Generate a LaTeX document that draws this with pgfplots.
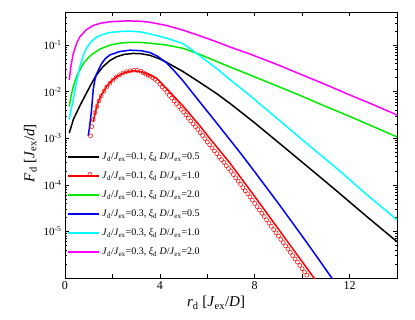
\documentclass[border=0pt]{standalone}
\usepackage{fontspec}
\setmainfont{Liberation Serif}
\usepackage{pgfplots}
\pgfplotsset{compat=1.18}
\newcommand{\Jd}{\textit{J}\textsubscript{d}}
\newcommand{\Jex}{\textit{J}\textsubscript{ex}}
\newcommand{\xid}{\textit{ξ}\textsubscript{d}}
\newcommand{\lab}[2]{\Jd/\Jex=#1, \xid{} \textit{D}/\Jex=#2}
\definecolor{cgreen}{RGB}{0,235,0}
\definecolor{cred}{RGB}{255,0,0}
\definecolor{cblue}{RGB}{0,0,255}
\definecolor{ccyan}{RGB}{0,255,255}
\definecolor{cmag}{RGB}{255,0,255}
\definecolor{cblack}{RGB}{0,0,0}
\begin{document}
\begin{tikzpicture}
\begin{axis}[
 name=ax, scale only axis, width=332pt, height=265.5pt,
 xmin=0, xmax=14, ymin=-6, ymax=-0.30103,
 xtick={0,2,4,6,8,10,12,14}, xticklabels={0,,4,,8,,12,},
 ytick={-6,-5,-4,-3,-2,-1},
 yticklabels={,10\textsuperscript{-5},10\textsuperscript{-4},10\textsuperscript{-3},10\textsuperscript{-2},10\textsuperscript{-1}},
 minor ytick={-5.699,-5.523,-5.398,-5.301,-5.222,-5.155,-5.097,-5.046,
 -4.699,-4.523,-4.398,-4.301,-4.222,-4.155,-4.097,-4.046,
 -3.699,-3.523,-3.398,-3.301,-3.222,-3.155,-3.097,-3.046,
 -2.699,-2.523,-2.398,-2.301,-2.222,-2.155,-2.097,-2.046,
 -1.699,-1.523,-1.398,-1.301,-1.222,-1.155,-1.097,-1.046,
 -0.699,-0.523,-0.398},
 tick align=inside, major tick length=4pt, minor tick length=2pt,
 tick style={black, line width=0.6pt},
 axis line style={line width=0.8pt},
 xticklabel style={font=\fontsize{12}{14}\selectfont},
 yticklabel style={font=\fontsize{11}{13}\selectfont},
 xlabel={\textit{r}\textsubscript{d} [\Jex/\textit{D}]},
 ylabel={\textit{F}\textsubscript{d} [\Jex/\textit{d}]},
 label style={font=\fontsize{15}{17}\selectfont},
 xlabel style={at={(ticklabel cs:0.455)}, anchor=near ticklabel},
 ylabel style={at={(ticklabel cs:0.47)}, anchor=near ticklabel},
 legend cell align=left,
 legend style={at={(rel axis cs:0.006,0.475)}, anchor=north west, draw=none, fill=none,
   inner sep=0pt, row sep=9.5pt, font=\fontsize{10}{12}\selectfont,
   nodes={inner sep=0.5pt},
   /tikz/every odd column/.append style={column sep=2pt}},
 legend image code/.code={\draw[#1,line width=1.5pt] (0pt,0pt) -- (31pt,0pt);},
]
\addplot[cblack, line width=1.5pt] table {
0.18 -2.89
0.35 -2.60
0.63 -2.30
1.05 -1.89
1.30 -1.66
1.61 -1.46
1.90 -1.33
2.18 -1.25
2.50 -1.20
2.88 -1.18
3.20 -1.185
3.58 -1.22
4.00 -1.30
4.28 -1.37
4.98 -1.57
5.68 -1.80
6.39 -2.04
7.00 -2.27
8.00 -2.67
9.33 -3.23
10.3 -3.64
11.5 -4.15
12.7 -4.67
14.0 -5.22
};
\addlegendentry{\lab{0.1}{0.5}}
\addplot[cred, only marks, mark=o, mark size=2pt, mark options={line width=0.5pt}, forget plot] table {
1.08 -2.95
1.13 -2.75
1.19 -2.60
1.26 -2.45
1.34 -2.32
1.43 -2.20
1.53 -2.09
1.64 -1.99
1.76 -1.90
1.89 -1.82
2.02 -1.75
2.16 -1.69
2.30 -1.64
2.45 -1.60
2.60 -1.57
2.75 -1.55
2.90 -1.54
3.05 -1.545
3.20 -1.56
3.30 -1.595
3.40 -1.62
3.50 -1.645
3.60 -1.67
3.70 -1.70
3.80 -1.735
3.90 -1.78
4.0 -1.84
4.1 -1.90
4.2 -1.95
4.3 -2.01
4.4 -2.08
4.5 -2.14
4.6 -2.20
4.7 -2.26
4.8 -2.32
4.9 -2.38
5.0 -2.44
5.1 -2.50
5.2 -2.57
5.3 -2.63
5.4 -2.69
5.5 -2.75
5.6 -2.81
5.7 -2.88
5.8 -2.94
5.9 -3.01
6.0 -3.08
6.1 -3.14
6.2 -3.21
6.3 -3.27
6.4 -3.33
6.5 -3.40
6.6 -3.46
6.7 -3.52
6.8 -3.59
6.9 -3.65
7.0 -3.71
7.1 -3.78
7.2 -3.85
7.3 -3.92
7.4 -3.99
7.5 -4.06
7.6 -4.13
7.7 -4.19
7.8 -4.26
7.9 -4.33
8.0 -4.40
8.1 -4.47
8.2 -4.54
8.3 -4.61
8.4 -4.68
8.5 -4.75
8.6 -4.82
8.7 -4.89
8.8 -4.96
8.9 -5.03
9.0 -5.10
9.1 -5.17
9.2 -5.24
9.3 -5.31
9.4 -5.38
9.5 -5.45
9.6 -5.52
9.7 -5.59
9.8 -5.66
9.9 -5.73
10.0 -5.80
10.1 -5.87
10.2 -5.94
};
\addplot[cred, line width=1.5pt, legend image code/.code={\draw[cred,line width=1.5pt] (0pt,0pt) -- (31pt,0pt); \draw[cred,line width=0.5pt] (22pt,1.5pt) circle (2pt);}] table {
1.19 -2.64
1.30 -2.40
1.40 -2.22
1.55 -2.06
1.75 -1.89
2.00 -1.75
2.18 -1.68
2.50 -1.59
2.88 -1.55
3.20 -1.57
3.58 -1.64
3.86 -1.71
4.28 -1.93
4.98 -2.31
5.68 -2.73
6.10 -3.00
6.95 -3.53
8.00 -4.25
9.00 -4.95
10.0 -5.65
10.53 -6.02
10.7 -6.14
};
\addlegendentry{\lab{0.1}{1.0}}
\addplot[cgreen, line width=1.5pt] table {
0.18 -2.32
0.25 -2.10
0.35 -1.89
0.50 -1.66
0.77 -1.40
1.00 -1.26
1.19 -1.18
1.50 -1.08
1.90 -1.00
2.30 -0.96
2.74 -0.94
3.20 -0.945
3.58 -0.96
4.28 -1.00
4.98 -1.07
5.68 -1.20
6.39 -1.35
7.00 -1.48
7.79 -1.64
9.00 -1.89
10.0 -2.10
11.0 -2.32
12.0 -2.53
13.0 -2.75
14.0 -2.97
};
\addlegendentry{\lab{0.1}{2.0}}
\addplot[cblue, line width=1.5pt] table {
0.98 -2.95
1.05 -2.70
1.12 -2.39
1.19 -1.95
1.26 -1.75
1.33 -1.62
1.54 -1.40
1.70 -1.29
1.90 -1.21
2.30 -1.14
2.74 -1.11
3.20 -1.12
3.58 -1.16
3.90 -1.24
4.28 -1.38
4.60 -1.55
4.98 -1.77
5.68 -2.22
6.39 -2.67
6.95 -3.03
7.37 -3.30
8.00 -3.72
9.00 -4.40
10.0 -5.10
10.7 -5.60
11.25 -6.00
11.4 -6.10
};
\addlegendentry{\lab{0.3}{0.5}}
\addplot[ccyan, line width=1.5pt] table {
0.18 -2.60
0.25 -2.40
0.35 -2.18
0.50 -1.75
0.63 -1.46
0.77 -1.22
0.91 -1.06
1.10 -0.93
1.33 -0.83
1.60 -0.77
1.90 -0.73
2.30 -0.71
2.74 -0.70
3.20 -0.72
3.58 -0.76
4.28 -0.85
4.98 -0.97
5.40 -1.12
5.68 -1.23
6.39 -1.50
7.00 -1.76
7.79 -2.08
9.00 -2.60
10.0 -3.03
11.44 -3.64
12.7 -4.20
14.0 -4.75
};
\addlegendentry{\lab{0.3}{1.0}}
\addplot[cmag, line width=1.5pt] table {
0.18 -1.75
0.25 -1.45
0.35 -1.18
0.50 -0.95
0.63 -0.82
0.90 -0.67
1.19 -0.58
1.50 -0.53
1.90 -0.50
2.60 -0.48
3.20 -0.49
3.58 -0.51
4.28 -0.58
4.98 -0.68
5.68 -0.80
6.39 -0.93
7.00 -1.05
7.79 -1.19
9.00 -1.43
10.0 -1.64
11.0 -1.85
12.0 -2.07
13.0 -2.28
14.0 -2.50
};
\addlegendentry{\lab{0.3}{2.0}}
\end{axis}
\pgfresetboundingbox
\path (ax.south west) ++(-65pt,-41pt) rectangle ++(415pt,319pt);
\end{tikzpicture}
\end{document}
